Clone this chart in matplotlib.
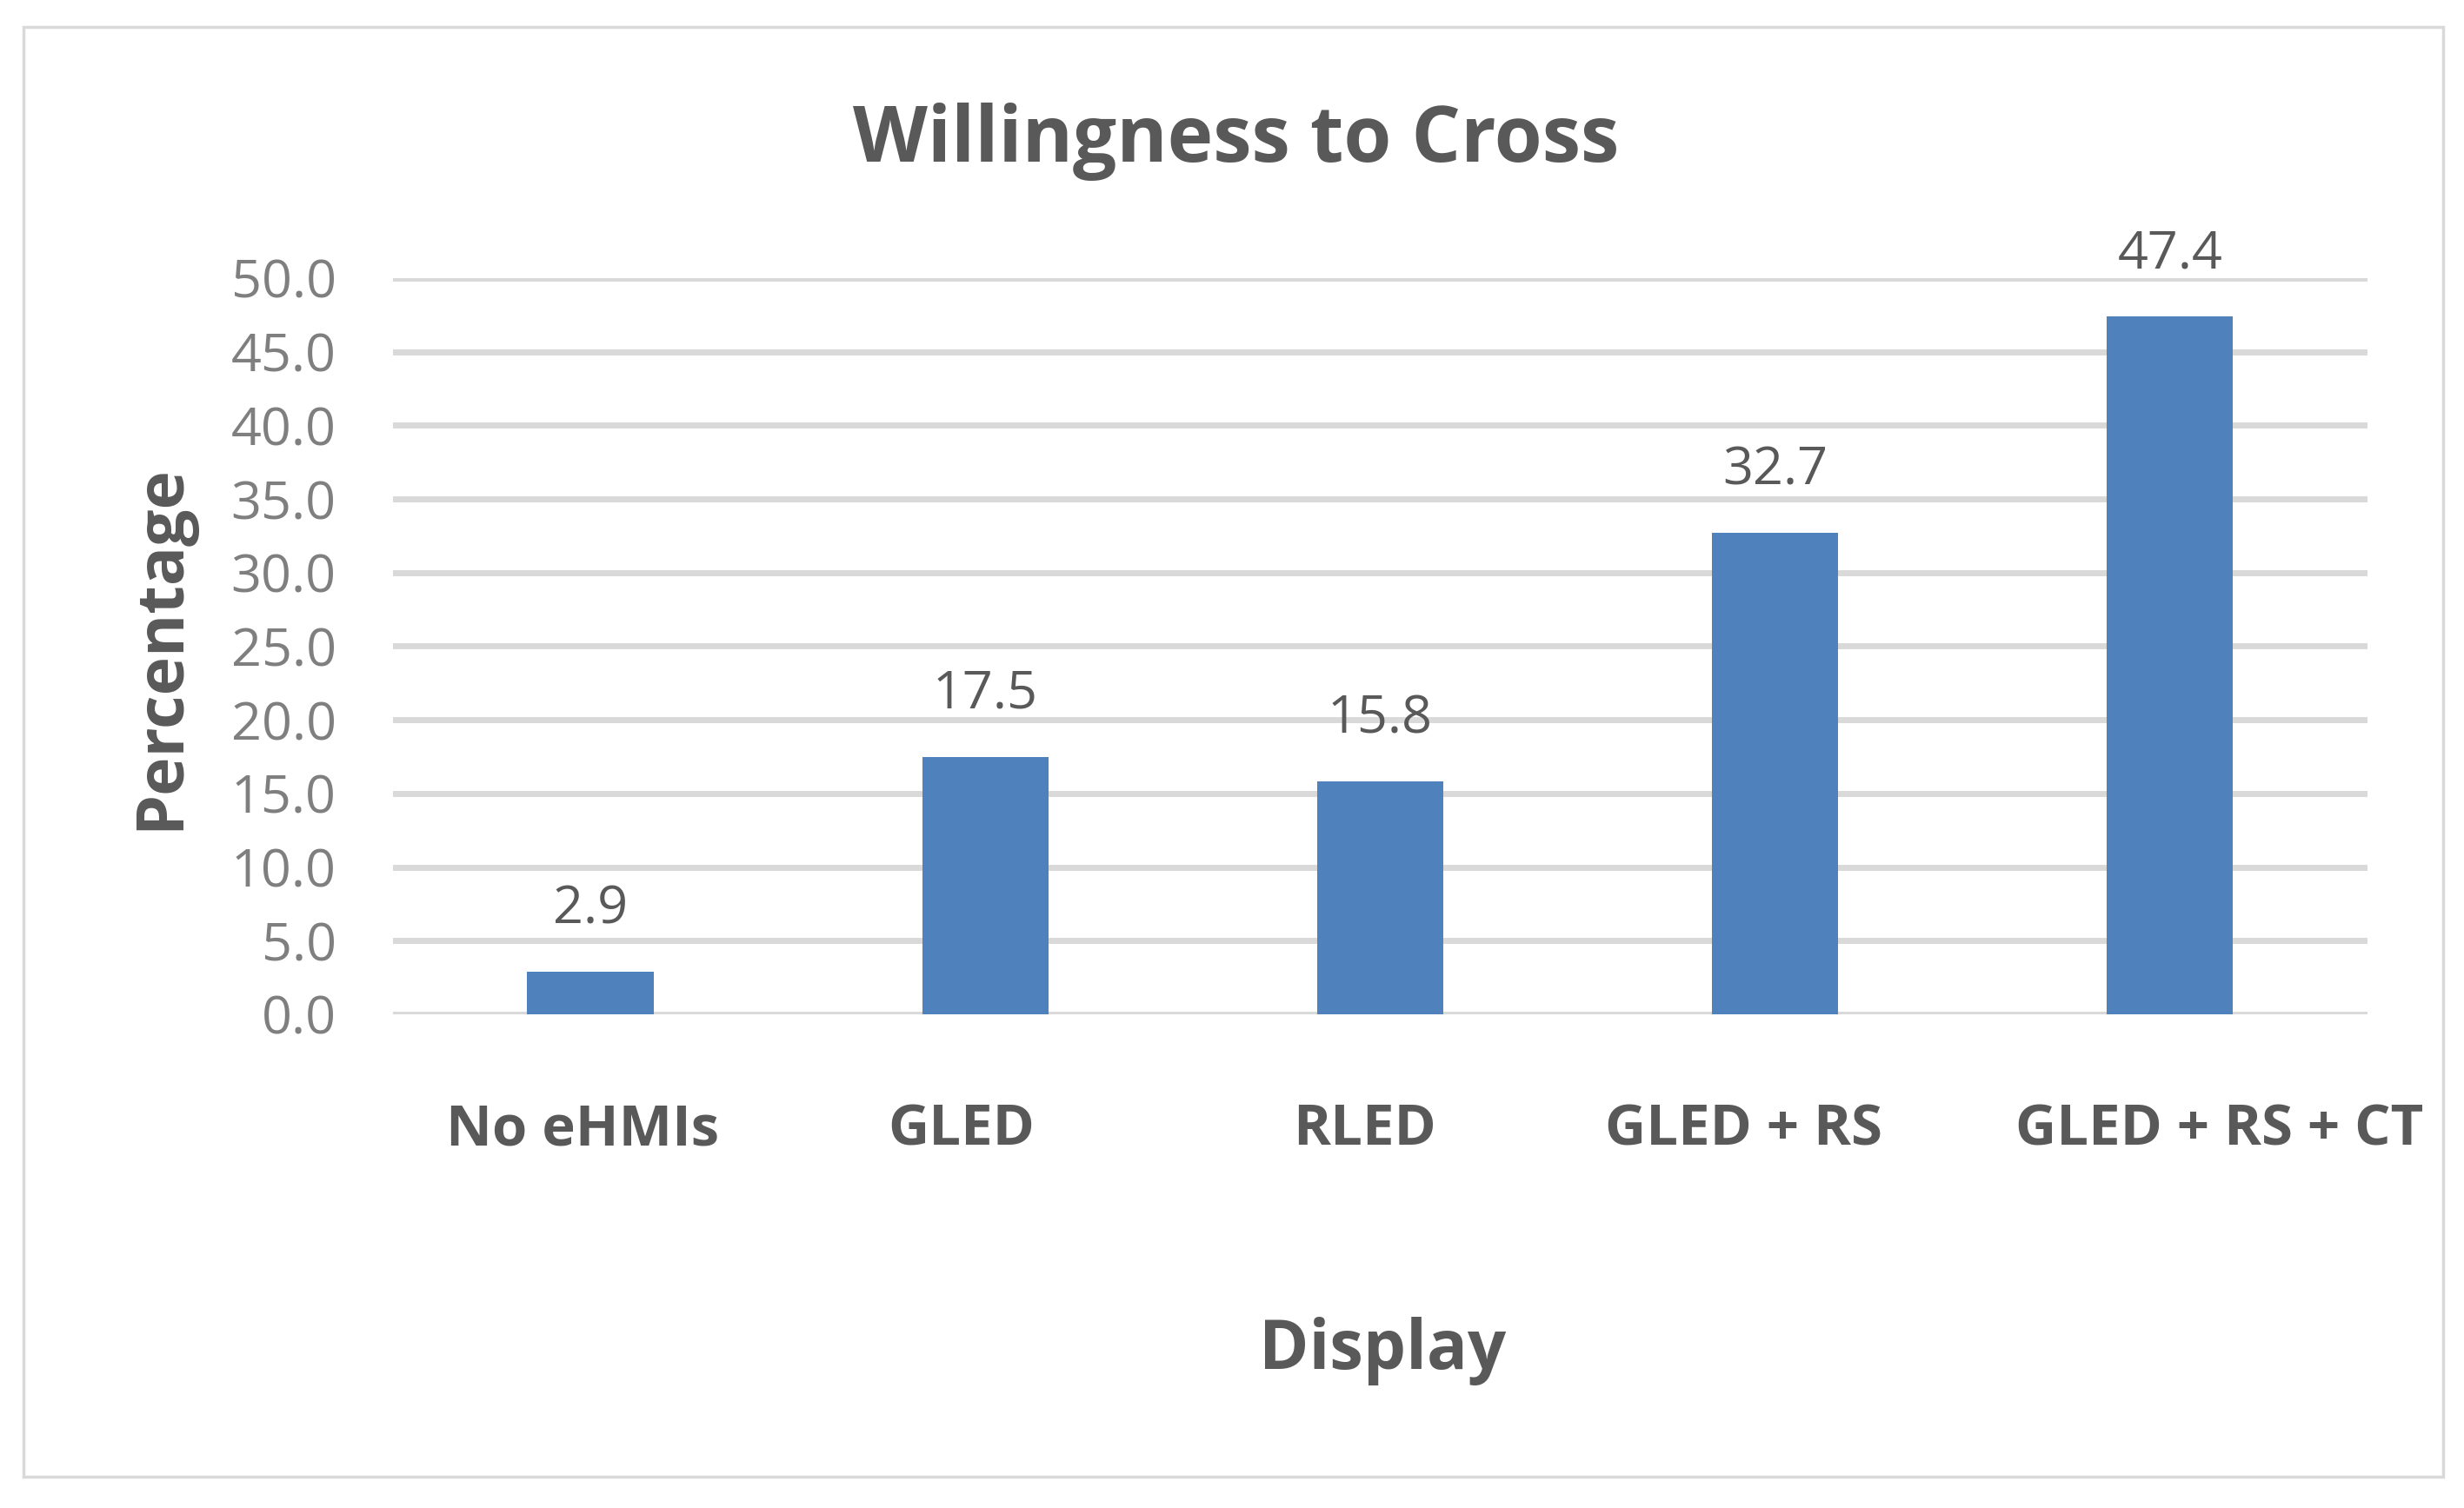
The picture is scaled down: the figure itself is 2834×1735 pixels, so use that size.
import matplotlib.pyplot as plt
from matplotlib.patches import Rectangle

categories = ['No eHMIs', 'GLED', 'RLED', 'GLED + RS', 'GLED + RS + CT']
values = [2.9, 17.5, 15.8, 32.7, 47.4]
yticks = [0, 5, 10, 15, 20, 25, 30, 35, 40, 45, 50]

# small horizontal nudges of the category labels, as in the original picture
label_shift = [-0.02, -0.06, -0.04, -0.08, 0.125]

plt.rcParams['font.family'] = ['Open Sans', 'DejaVu Sans']

fig = plt.figure(figsize=(28.34, 17.35), dpi=100)
ax = fig.add_axes([0.1595, 0.3274, 0.8013, 0.4882])

x = list(range(len(categories)))
ax.bar(x, values, width=0.32, color='#4F81BD', zorder=3)

for xi, v in zip(x, values):
    ax.annotate(f'{v:.1f}', (xi, v), xytext=(0, 30), textcoords='offset points',
                ha='center', va='bottom', fontsize=44, color='#595959')

ax.set_xlim(-0.5, len(categories) - 0.5)
ax.set_ylim(0, 50)
ax.set_yticks(yticks)
ax.set_yticklabels([f'{t:.1f}' for t in yticks], fontsize=44, color='#7F7F7F')
ax.tick_params(axis='y', length=0, pad=47)
ax.set_xticks([])
ax.yaxis.grid(True, color='#D9D9D9', linewidth=5, zorder=0)
for s in ax.spines.values():
    s.set_visible(False)

for xi, lab, dx in zip(x, categories, label_shift):
    ax.text(xi + dx, -7.9, lab, ha='center', va='center', fontsize=47,
            fontweight='bold', color='#595959')

fig.text(0.5018, 0.906, 'Willingness to Cross', ha='center', va='center',
         fontsize=64, fontweight='bold', color='#595959')
fig.text(0.561, 0.104, 'Display', ha='center', va='center',
         fontsize=56, fontweight='bold', color='#595959')
fig.text(0.0656, 0.5706, 'Percentage', ha='center', va='center', rotation=90,
         fontsize=54, fontweight='bold', color='#595959')

fig.patches.append(Rectangle((27 / 2834, 1 - 1699 / 1735), (2810 - 27) / 2834,
                             (1699 - 31) / 1735, transform=fig.transFigure,
                             fill=False, edgecolor='#D9D9D9', linewidth=2.5))

fig.savefig('out.png', dpi=100, facecolor='white')
